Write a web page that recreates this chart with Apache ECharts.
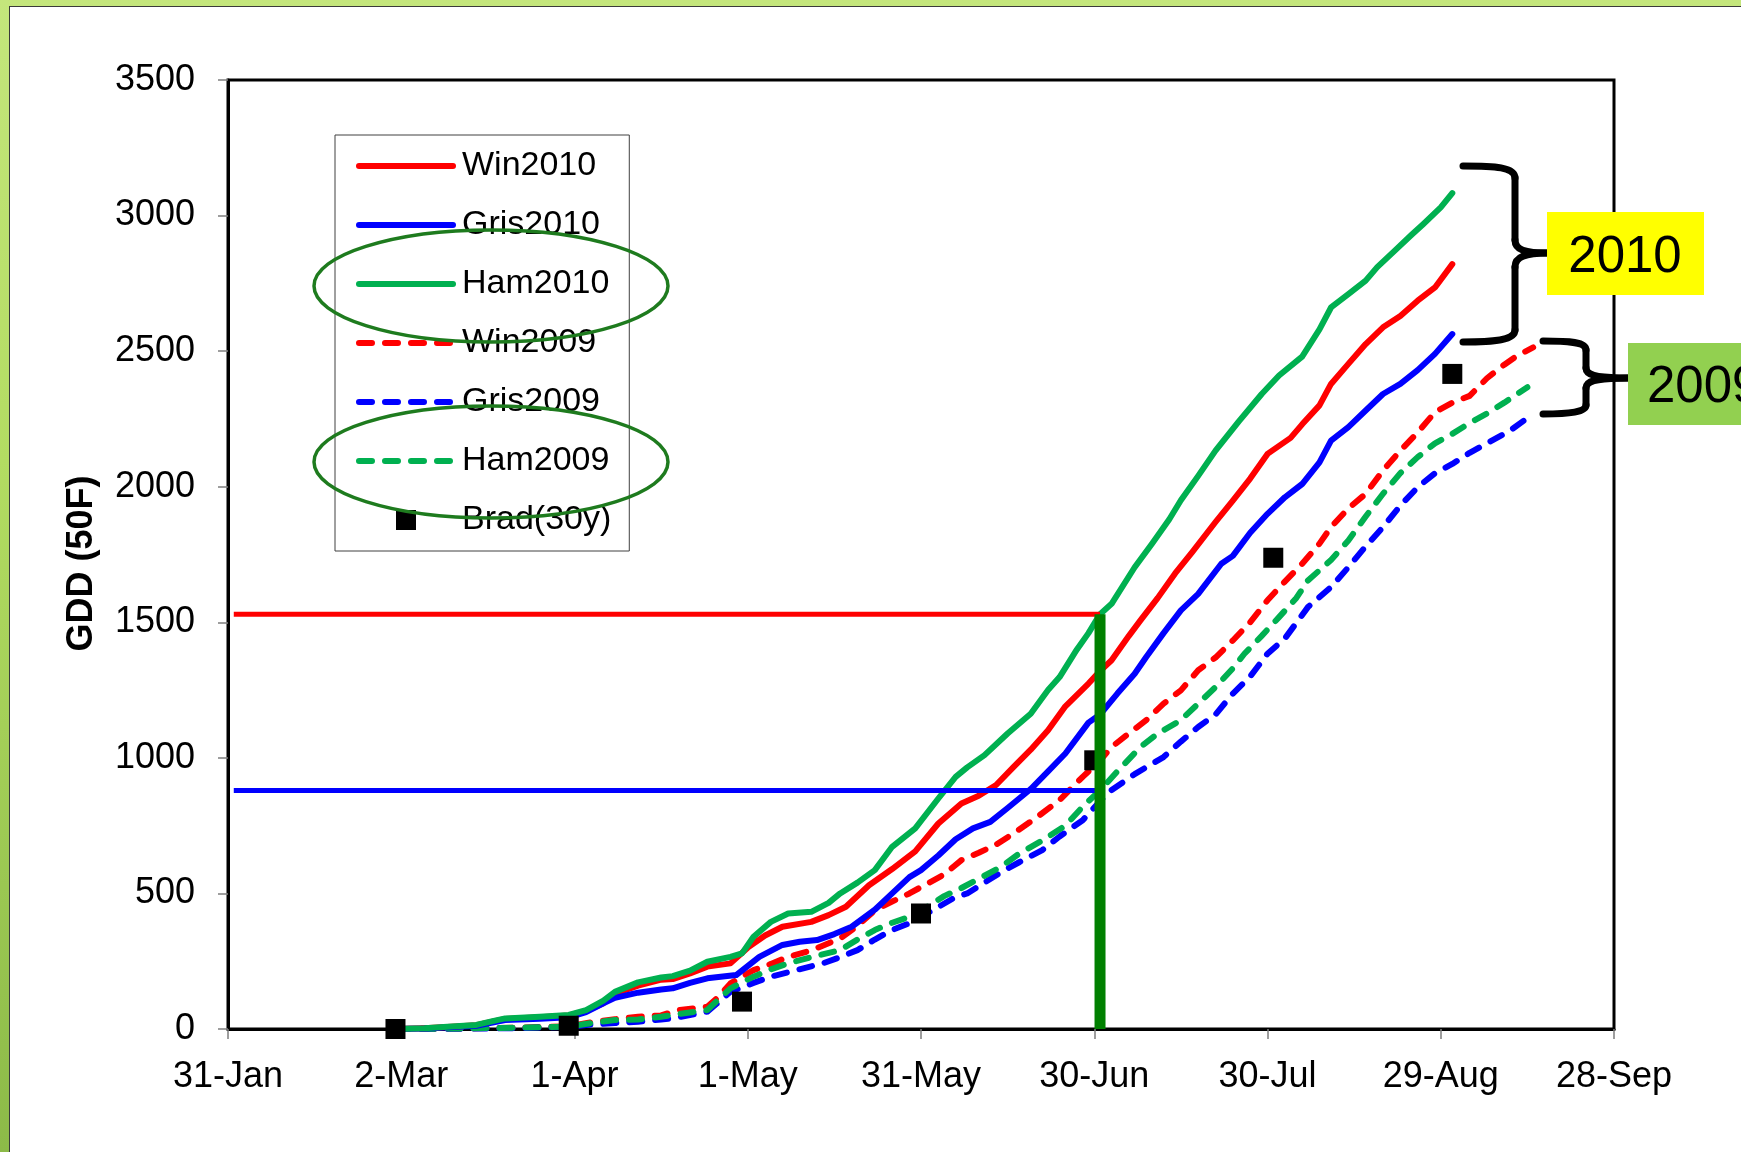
<!DOCTYPE html>
<html>
<head>
<meta charset="utf-8">
<script src="https://cdn.jsdelivr.net/npm/echarts@6/dist/echarts.min.js"></script>
<style>
  html, body { margin: 0; padding: 0; }
  body { width: 1741px; height: 1152px; overflow: hidden; position: relative;
         background: linear-gradient(to bottom, #c4e67c 0%, #b3dc62 40%, #8cba48 100%); }
  #panel { position: absolute; left: 9px; top: 6px; right: -2px; bottom: -2px;
           background: #ffffff; border-left: 1px solid #3a3a3a; border-top: 1px solid #3a3a3a; }
  #chart { position: absolute; left: 0; top: 0; width: 1741px; height: 1152px; }
</style>
</head>
<body>
<div id="panel"></div>
<div id="chart"></div>
<script>
// x values are day numbers counted from 1 January (1 Jan = 0), year 2010
const xTickLabels = ['31-Jan', '2-Mar', '1-Apr', '1-May', '31-May', '30-Jun', '30-Jul', '29-Aug', '28-Sep'];

const win2010 = [[59,0],[64,3],[68,7],[73,14],[76,28],[78,37],[84,43],[89,50],[92,66],[95,95],[97,130],[101,160],[105,182],[107,184],[110,205],[113,230],[117,242],[120,300],[123,345],[126,377],[131,395],[134,420],[137,451],[141,530],[145,590],[149,655],[153,758],[157,832],[160,860],[163,900],[166,966],[169,1030],[172,1102],[175,1190],[179,1274],[181,1320],[183,1360],[186,1450],[188,1507],[191,1590],[194,1680],[197,1760],[201,1870],[204,1949],[207,2030],[210,2121],[214,2180],[216,2230],[219,2300],[221,2379],[224,2453],[227,2526],[230,2588],[233,2630],[236,2686],[239,2735],[242,2821]];
const gris2010 = [[59,0],[64,2],[68,6],[73,12],[76,25],[78,33],[84,38],[89,43],[92,62],[95,95],[97,115],[101,134],[105,146],[107,150],[110,170],[113,187],[118,199],[122,266],[126,310],[129,322],[132,328],[135,350],[138,377],[142,440],[145,500],[148,560],[150,586],[153,640],[156,700],[159,740],[162,764],[165,815],[169,885],[172,950],[175,1016],[179,1130],[181,1160],[184,1237],[187,1310],[189,1372],[192,1460],[195,1544],[198,1605],[202,1716],[204,1745],[207,1830],[210,1900],[213,1961],[216,2010],[219,2090],[221,2170],[224,2220],[227,2281],[230,2342],[233,2379],[236,2430],[239,2490],[242,2563]];
const ham2010 = [[59,0],[64,3],[68,8],[73,15],[76,30],[78,39],[84,45],[89,52],[92,70],[95,105],[97,137],[101,172],[105,190],[107,195],[110,215],[113,248],[117,266],[119,279],[121,340],[124,395],[127,426],[131,432],[134,465],[136,500],[139,540],[142,586],[145,672],[149,740],[153,850],[156,930],[158,965],[161,1010],[165,1090],[169,1163],[172,1250],[174,1298],[177,1400],[179,1460],[181,1530],[183,1568],[187,1703],[190,1790],[193,1880],[195,1950],[198,2040],[201,2133],[205,2240],[209,2342],[212,2410],[216,2480],[219,2580],[221,2661],[224,2710],[227,2760],[229,2810],[232,2870],[235,2930],[237,2969],[240,3030],[242,3083]];
const win2009 = [[59,0],[70,2],[80,5],[89,10],[93,25],[97,36],[101,45],[105,50],[108,70],[113,82],[115,120],[117,168],[121,217],[124,240],[127,266],[131,290],[136,334],[139,380],[142,438],[145,470],[148,500],[151,535],[154,570],[157,623],[160,650],[163,680],[166,721],[170,780],[174,844],[178,930],[181,990],[183,1040],[186,1090],[189,1139],[192,1200],[195,1249],[198,1323],[201,1370],[204,1433],[207,1500],[210,1581],[213,1650],[216,1716],[219,1790],[221,1851],[224,1920],[227,1974],[230,2060],[233,2133],[236,2200],[239,2275],[242,2310],[245,2335],[248,2400],[251,2450],[253,2480],[256,2514]];
const gris2009 = [[59,0],[70,1],[80,3],[89,8],[93,17],[97,22],[101,27],[105,35],[107,39],[113,64],[115,100],[117,137],[121,170],[124,193],[128,215],[133,242],[136,265],[139,291],[142,330],[145,365],[148,390],[150,414],[153,450],[156,487],[158,500],[161,540],[164,580],[167,615],[171,660],[174,710],[178,770],[181,840],[183,881],[187,940],[192,1003],[195,1060],[198,1114],[201,1160],[204,1237],[207,1300],[210,1384],[213,1440],[217,1556],[221,1630],[224,1703],[227,1780],[230,1851],[233,1930],[236,1998],[239,2050],[242,2084],[245,2125],[248,2160],[252,2207],[256,2269]];
const ham2009 = [[59,0],[70,2],[80,5],[89,9],[93,22],[97,33],[101,35],[105,45],[107,52],[113,70],[115,110],[117,150],[121,193],[124,220],[127,242],[131,265],[136,291],[139,330],[142,365],[145,392],[148,414],[151,450],[154,490],[157,520],[160,554],[164,600],[167,647],[171,695],[175,750],[178,820],[181,880],[184,950],[188,1040],[191,1090],[195,1139],[198,1200],[201,1261],[204,1330],[206,1384],[209,1450],[212,1519],[215,1590],[217,1654],[221,1730],[224,1802],[227,1890],[230,1974],[233,2050],[236,2109],[239,2160],[242,2195],[245,2235],[248,2270],[251,2310],[255,2367]];
const brad30y = [[59,0],[89,12],[119,101],[150,426],[180,991],[211,1738],[242,2416]];

// reference marks drawn on the chart
const refRedLine = [[31,1530],[181,1530]];
const refBlueLine = [[31,880],[181,880]];
const refDateLine = [[181,0],[181,1530]];

const FONT = '"Liberation Sans", Arial, sans-serif';
const RED = '#ff0000', BLUE = '#0000ff', GREEN = '#00b050';

function lineSeries(name, data, color, dashed) {
  return {
    name: name, type: 'line', data: data, symbol: 'none', showSymbol: false, z: 2,
    lineStyle: { color: color, width: 6, type: dashed ? [13, 13] : 'solid', cap: 'round', join: 'round' },
    itemStyle: { color: color },
    emphasis: { disabled: true }
  };
}

const braceStyle = { stroke: '#000', lineWidth: 7, lineCap: 'round', fill: 'none' };
function bez(x1, y1, c1x, c1y, c2x, c2y, x2, y2) {
  return { type: 'bezierCurve', z: 100, shape: { x1: x1, y1: y1, cpx1: c1x, cpy1: c1y, cpx2: c2x, cpy2: c2y, x2: x2, y2: y2 }, style: braceStyle };
}
function seg(x1, y1, x2, y2) {
  return { type: 'line', z: 100, shape: { x1: x1, y1: y1, x2: x2, y2: y2 }, style: braceStyle };
}

const legendNames = ['Win2010', 'Gris2010', 'Ham2010', 'Win2009', 'Gris2009', 'Ham2009'];

const chart = echarts.init(document.getElementById('chart'), null, { renderer: 'canvas' });
chart.setOption({
  animation: false,
  backgroundColor: 'transparent',
  grid: { left: 228, right: 127, top: 80, bottom: 123, show: true, borderColor: '#000', borderWidth: 3, backgroundColor: 'transparent' },
  xAxis: {
    type: 'value', min: 30, max: 270, interval: 30,
    axisLine: { show: true, lineStyle: { color: '#000', width: 3 } },
    axisTick: { show: true, length: 10, lineStyle: { color: '#7f7f7f', width: 1.5 } },
    axisLabel: { margin: 30, fontFamily: FONT, fontSize: 36, color: '#000',
      formatter: function (v) { return xTickLabels[Math.round((v - 30) / 30)]; } },
    splitLine: { show: false }
  },
  yAxis: {
    type: 'value', min: 0, max: 3500, interval: 500,
    name: 'GDD (50F)', nameLocation: 'middle', nameGap: 128, nameRotate: 90,
    nameTextStyle: { fontFamily: FONT, fontSize: 36, fontWeight: 'bold', color: '#000', padding: [0, 18, 0, 0] },
    axisLine: { show: true, lineStyle: { color: '#000', width: 3 } },
    axisTick: { show: true, length: 10, lineStyle: { color: '#7f7f7f', width: 1.5 } },
    axisLabel: { margin: 33, fontFamily: FONT, fontSize: 36, color: '#000',
      formatter: function (v) { return String(v); } },
    splitLine: { show: false }
  },
  legend: {
    orient: 'vertical', left: 335, top: 135, align: 'left',
    padding: [11, 18, 11, 21], itemGap: 19, itemWidth: 94, itemHeight: 20,
    symbolKeepAspect: true,
    lineStyle: { width: 6, cap: 'round' },
    backgroundColor: '#fff', borderColor: '#404040', borderWidth: 1,
    textStyle: { fontFamily: FONT, fontSize: 34, color: '#000', lineHeight: 40, padding: [0, 0, 0, 4] },
    data: legendNames.map(function (n) { return { name: n, itemStyle: { opacity: 0 } }; })
      .concat([{ name: 'Brad(30y)', icon: 'path://M0,0L10,0L10,10L0,10Z', itemStyle: { opacity: 1, color: '#000' } }]),
    selectedMode: false
  },
  series: [
    lineSeries('Win2009', win2009, RED, true),
    lineSeries('Gris2009', gris2009, BLUE, true),
    lineSeries('Ham2009', ham2009, GREEN, true),
    lineSeries('Win2010', win2010, RED, false),
    lineSeries('Gris2010', gris2010, BLUE, false),
    lineSeries('Ham2010', ham2010, GREEN, false),
    { name: 'Brad(30y)', type: 'scatter', data: brad30y, symbol: 'rect', symbolSize: 20, z: 3,
      itemStyle: { color: '#000', opacity: 1 }, emphasis: { disabled: true } },
    { name: 'refRed', type: 'line', data: refRedLine, symbol: 'none', z: 4,
      lineStyle: { color: RED, width: 5 }, emphasis: { disabled: true } },
    { name: 'refBlue', type: 'line', data: refBlueLine, symbol: 'none', z: 4,
      lineStyle: { color: BLUE, width: 5 }, emphasis: { disabled: true } },
    { name: 'refDate', type: 'line', data: refDateLine, symbol: 'none', z: 5,
      lineStyle: { color: '#008000', width: 11 }, emphasis: { disabled: true } }
  ],
  graphic: [
    { type: 'ellipse', z: 100, shape: { cx: 491, cy: 286, rx: 177, ry: 56 },
      style: { fill: 'none', stroke: '#1e7b1e', lineWidth: 3.5 } },
    { type: 'ellipse', z: 100, shape: { cx: 491, cy: 462, rx: 177, ry: 56 },
      style: { fill: 'none', stroke: '#1e7b1e', lineWidth: 3.5 } },
    // brace for 2010
    bez(1463, 166, 1495, 166, 1515, 167, 1515, 178),
    seg(1515, 178, 1515, 240),
    bez(1515, 240, 1515, 250, 1525, 253, 1548, 253),
    bez(1548, 253, 1525, 253, 1515, 257, 1515, 267),
    seg(1515, 267, 1515, 330),
    bez(1515, 330, 1515, 340, 1495, 342, 1463, 342),
    // brace for 2009
    bez(1543, 341, 1570, 341, 1586, 342, 1586, 350),
    seg(1586, 350, 1586, 368),
    bez(1586, 368, 1586, 375, 1595, 378, 1628, 378),
    bez(1628, 378, 1595, 378, 1586, 381, 1586, 388),
    seg(1586, 388, 1586, 405),
    bez(1586, 405, 1586, 412, 1570, 414, 1543, 414),
    { type: 'rect', z: 100, shape: { x: 1547, y: 212, width: 157, height: 83 }, style: { fill: '#ffff00' } },
    { type: 'text', z: 101, x: 1625, y: 258,
      style: { text: '2010', fontFamily: FONT, fontSize: 51, fill: '#000', align: 'center', verticalAlign: 'middle' } },
    { type: 'rect', z: 100, shape: { x: 1628, y: 343, width: 130, height: 82 }, style: { fill: '#92d050' } },
    { type: 'text', z: 101, x: 1647, y: 388,
      style: { text: '2009', fontFamily: FONT, fontSize: 51, fill: '#000', align: 'left', verticalAlign: 'middle' } }
  ]
});
</script>
</body>
</html>
